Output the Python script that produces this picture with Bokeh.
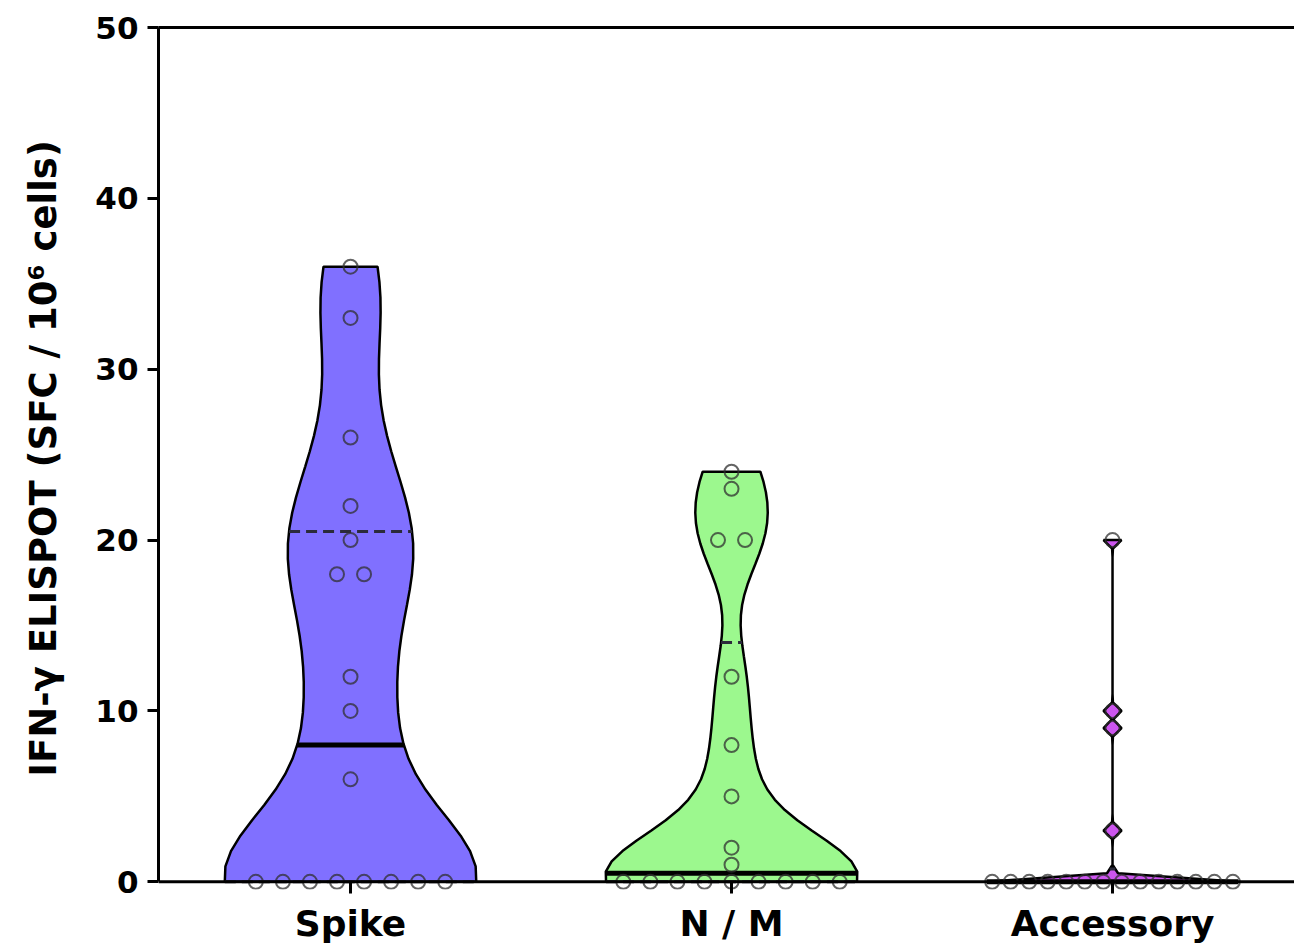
import numpy as np
from collections import Counter
from bokeh.plotting import figure
from bokeh.models import Range1d, FixedTicker, Span, LinearAxis
from bokeh.embed import file_html
from bokeh.resources import INLINE

# ---------------- data ----------------
categories = ["Spike", "N / M", "Accessory"]
spike = [36, 33, 26, 22, 20, 18, 18, 12, 10, 6, 0, 0, 0, 0, 0, 0, 0, 0]
nm = [24, 23, 20, 20, 12, 8, 5, 2, 1, 0, 0, 0, 0, 0, 0, 0, 0, 0]
accessory = [20, 10, 9, 3, 0, 0, 0, 0, 0, 0, 0, 0, 0, 0, 0, 0, 0, 0]
groups = [spike, nm, accessory]
y_ticks = [0, 10, 20, 30, 40, 50]

# ---------------- styles ----------------
fill_colors = ["#8070FF", "#9CF88E", "#CC55EE"]
bandwidths = [4.0, 2.5, 0.2]
dot_spacing = [0.071, 0.071, 0.0486]
max_half_width = 0.33
n_grid = 41
FONT = "DejaVu Sans"

p = figure(frame_width=1136, frame_height=862,
           x_range=Range1d(0.496, 0.496 + 1136 / 381.0), y_range=Range1d(-0.45, 50),
           output_backend="svg", toolbar_location=None,
           min_border_left=158, min_border_top=27, min_border_right=0,
           min_border_bottom=0)
p.xgrid.visible = False
p.ygrid.visible = False
p.outline_line_color = None
p.background_fill_color = "white"

for i, vals in enumerate(groups):
    c = i + 1
    v = np.asarray(vals, dtype=float)
    grid = np.linspace(v.min(), v.max(), n_grid)
    dens = np.exp(-0.5 * ((grid[:, None] - v[None, :]) / bandwidths[i]) ** 2).sum(axis=1)
    w = max_half_width * dens / dens.max()
    xs = np.concatenate([c + w, (c - w)[::-1]])
    ys = np.concatenate([grid, grid[::-1]])
    p.patch(xs, ys, fill_color=fill_colors[i], line_color="black", line_width=2.5)

    q1, med, q3 = np.percentile(v, [25, 50, 75], method="weibull")
    for q, style in ((q1, "dash"), (q3, "dash"), (med, "solid")):
        wq = np.interp(q, grid, w)
        if style == "solid":
            p.segment(c - wq, q, c + wq, q, line_color="black", line_width=5)
        else:
            p.segment(c - wq, q, c + wq, q, line_color="#2b2b3b", line_width=3,
                      line_dash="11 6")

    counts = Counter(vals)
    seen = {}
    dx, dy = [], []
    for val in vals:
        k = seen.get(val, 0)
        seen[val] = k + 1
        n = counts[val]
        dx.append(c + (k - (n - 1) / 2) * dot_spacing[i])
        dy.append(val)
    p.scatter(dx, dy, marker="circle", size=14, fill_color=None,
              line_color="#303030", line_alpha=0.75, line_width=2)

p.add_layout(Span(location=0, dimension="width", line_color="black", line_width=3))

# y axis
ya = p.yaxis[0]
ya.ticker = FixedTicker(ticks=y_ticks)
ya.bounds = (0, 50)
ya.axis_line_width = 3
ya.major_tick_line_width = 3
ya.major_tick_in = 0
ya.major_tick_out = 11
ya.minor_tick_line_color = None
ya.major_label_standoff = 9
ya.major_label_text_font = FONT
ya.major_label_text_font_style = "bold"
ya.major_label_text_font_size = "31px"
ya.major_label_text_color = "black"
ya.axis_label = "IFN-\u03b3 ELISPOT (SFC / 10\u2076 cells)"
ya.axis_label_text_font = FONT
ya.axis_label_text_font_style = "bold"
ya.axis_label_text_font_size = "37px"
ya.axis_label_text_color = "black"
ya.axis_label_standoff = 27

# x axis
xa = p.xaxis[0]
xa.ticker = FixedTicker(ticks=[1, 2, 3])
xa.major_label_overrides = {1: categories[0], 2: categories[1], 3: categories[2]}
xa.axis_line_color = None
xa.major_tick_line_width = 3
xa.major_tick_in = 8
xa.major_tick_out = 4
xa.minor_tick_line_color = None
xa.major_label_standoff = 9
xa.major_label_text_font = FONT
xa.major_label_text_font_style = "bold"
xa.major_label_text_font_size = "36px"
xa.major_label_text_color = "black"

# top frame line
top = LinearAxis(ticker=FixedTicker(ticks=[]), major_tick_line_color=None,
                 minor_tick_line_color=None, major_label_text_font_size="0px",
                 axis_line_width=3)
p.add_layout(top, "above")

open("out.html", "w").write(file_html(p, INLINE))
